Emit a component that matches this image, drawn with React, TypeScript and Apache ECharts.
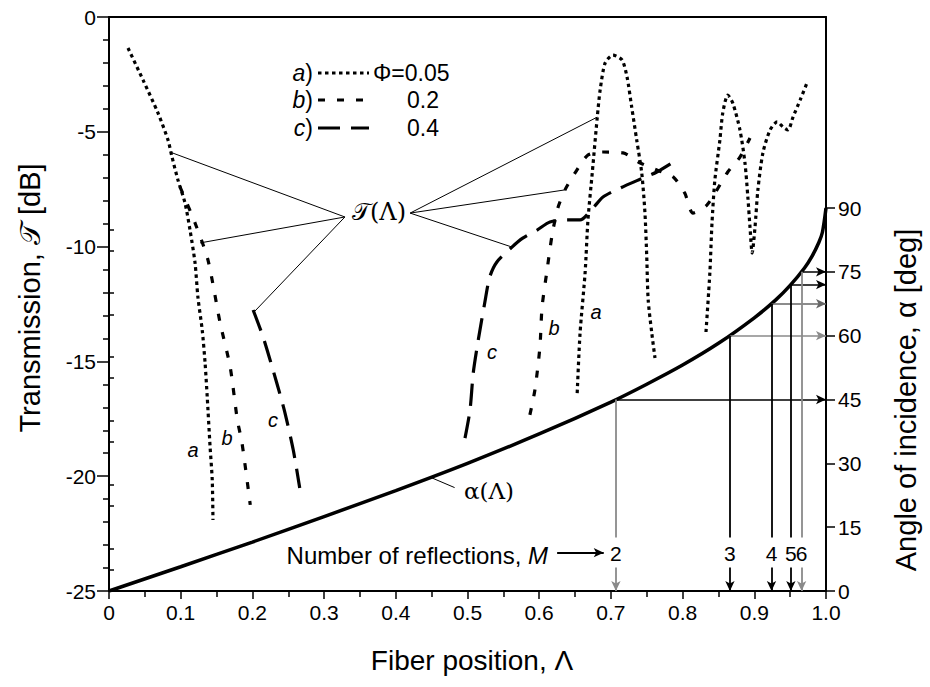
import React, { useEffect, useRef } from "react";
import * as echarts from "echarts";

// ---- Data ----
// Transmission curves [fiber position Λ, transmission dB]
const curveALeft: [number, number][] = [
  [0.0265, -1.35], [0.0474, -2.74], [0.0683, -4.18], [0.0823, -5.36], [0.0879, -6.1],
  [0.0962, -7.1], [0.106, -8.1], [0.113, -9.28], [0.12, -10.71], [0.124, -12.2],
  [0.13, -13.63], [0.134, -15.07], [0.137, -16.55], [0.141, -18.73], [0.144, -20.17], [0.145, -21.91],
];
const curveARight1: [number, number][] = [
  [0.653, -16.38], [0.657, -13.76], [0.664, -11.15], [0.668, -8.84], [0.674, -6.79],
  [0.681, -4.36], [0.685, -3.18], [0.692, -2.0], [0.703, -1.66], [0.7155, -1.87],
  [0.7225, -2.61], [0.729, -3.92], [0.736, -5.36], [0.743, -6.79], [0.7475, -8.54],
  [0.75, -10.45], [0.752, -12.33], [0.757, -13.76], [0.7615, -14.85],
];
const curveARight2: [number, number][] = [
  [0.8326, -13.72], [0.838, -11.15], [0.841, -8.97], [0.845, -7.1], [0.852, -5.36],
  [0.856, -4.18], [0.863, -3.4], [0.87, -3.75], [0.88, -4.92], [0.887, -6.36],
  [0.891, -7.84], [0.894, -9.15], [0.897, -10.28], [0.901, -9.15], [0.905, -7.53],
  [0.912, -5.92], [0.922, -4.92], [0.932, -4.57], [0.94, -4.79], [0.947, -4.92],
  [0.954, -4.36], [0.964, -3.61], [0.9735, -2.87],
];
const curveBLeft: [number, number][] = [
  [0.099, -7.4], [0.12, -8.97], [0.138, -10.58], [0.155, -13.33], [0.169, -15.24],
  [0.179, -17.55], [0.1855, -18.55], [0.197, -21.25],
];
const curveBRight: [number, number][] = [
  [0.587, -17.33], [0.594, -16.25], [0.601, -14.37], [0.604, -12.63], [0.611, -11.02],
  [0.618, -9.49], [0.626, -8.32], [0.636, -7.53], [0.65, -6.79], [0.668, -6.01],
  [0.689, -5.88], [0.717, -5.92], [0.741, -6.36], [0.764, -6.66], [0.787, -6.97],
  [0.803, -7.67], [0.8145, -8.54], [0.834, -8.19], [0.863, -6.75], [0.88, -6.1], [0.894, -5.27],
];
const curveCLeft: [number, number][] = [
  [0.201, -12.76], [0.215, -13.94], [0.234, -15.94], [0.2455, -17.25], [0.257, -18.86], [0.266, -20.51],
];
const curveCRight: [number, number][] = [
  [0.4965, -18.34], [0.5035, -17.12], [0.508, -15.51], [0.515, -14.07], [0.524, -12.46],
  [0.531, -11.32], [0.541, -10.67], [0.562, -10.02], [0.577, -9.63], [0.597, -9.28],
  [0.615, -8.93], [0.639, -8.84], [0.657, -8.84], [0.675, -8.32], [0.689, -7.84],
  [0.713, -7.45], [0.745, -7.01], [0.764, -6.75], [0.796, -6.14],
];

// Angle of incidence curve α(Λ) [Λ, deg]
const alphaLambda = [0, 0.1, 0.2, 0.3, 0.4, 0.5, 0.6, 0.7, 0.75, 0.8, 0.85, 0.9, 0.93, 0.95, 0.97, 0.98, 0.99, 0.995, 1.0];
const alphaDeg = [0, 5.7, 11.5, 17.5, 23.6, 30, 36.9, 44.4, 48.6, 53.1, 58.2, 64.2, 68.4, 71.8, 75.9, 78.5, 81.9, 84.3, 90];

// Number of reflections
const reflM = [2, 3, 4, 5, 6];
const reflLambda = [0.707, 0.866, 0.924, 0.951, 0.966];
const reflAlpha = [45, 60, 67.5, 72, 75];

// Annotation pointers for 𝒯(Λ)
const tAnchorLeft: [number, number] = [0.329, -8.71];
const tTargetsLeft: [number, number][] = [[0.085, -5.88], [0.127, -9.84], [0.201, -12.89]];
const tAnchorRight: [number, number] = [0.42, -8.54];
const tTargetsRight: [number, number][] = [[0.681, -4.36], [0.636, -7.53], [0.562, -10.02]];

// Axis ticks
const leftMin = -25, leftMax = 0, leftStep = 5;
const rightMajor = [0, 15, 30, 45, 60, 75, 90];
const rightMinor = [5, 10, 20, 25, 35, 40, 50, 55, 65, 70, 80, 85];

// ---- Layout ----
const W = 930, H = 687;
const G = { left: 109, right: 104, top: 17, bottom: 96 };
const plotH = H - G.top - G.bottom;
const angleTopPx = 208; // pixel y of 90 deg
const angleMax = 90 * plotH / (H - G.bottom - angleTopPx);

const FONT = "'Liberation Sans', Arial, sans-serif";
const BLK = "#000";
const TS = 21; // tick text size
const LS = 23; // legend / annotation text size

const DOT = [3.5, 3.5];
const SHORT = [7, 12];
const LONG = [22, 11];

function App() {
  const ref = useRef<HTMLDivElement>(null);
  useEffect(() => {
    if (!ref.current) return;
    const chart = echarts.init(ref.current, undefined, { renderer: "svg" });

    const curve = (data: [number, number][], dash: number[]) => ({
      type: "line",
      data,
      xAxisIndex: 0,
      yAxisIndex: 0,
      symbol: "none",
      smooth: 0.25,
      silent: true,
      lineStyle: { color: BLK, width: 3.2, type: dash, cap: "butt" },
      z: 3,
    });

    const vTop = 12.6;
    const vArrowStart = 5.5;
    const labelAlpha = 8.7;
    const vColors = ["#8a8a8a", BLK, BLK, BLK, "#8a8a8a"];
    const hColors = [BLK, "#8a8a8a", "#666", BLK, BLK];

    const reflLines: any[] = [];
    reflLambda.forEach((l, i) => {
      reflLines.push([
        { coord: [l, reflAlpha[i]], symbol: "none", lineStyle: { color: hColors[i], width: 1.5 } },
        { coord: [1, reflAlpha[i]], symbol: "arrow" },
      ]);
      reflLines.push([
        { coord: [l, reflAlpha[i]], symbol: "none", lineStyle: { color: vColors[i], width: 1.8 } },
        { coord: [l, vTop], symbol: "none" },
      ]);
      reflLines.push([
        { coord: [l, vArrowStart], symbol: "none", lineStyle: { color: vColors[i], width: 1.8 } },
        { coord: [l, 0], symbol: "arrow" },
      ]);
    });
    // arrow after "Number of reflections, M"
    reflLines.push([
      { coord: [0.625, 9.0], symbol: "none", lineStyle: { color: BLK, width: 2 } },
      { coord: [0.69, 9.0], symbol: "arrow" },
    ]);
    // α(Λ) pointer
    reflLines.push([
      { coord: [0.45, 26.6], symbol: "none", lineStyle: { color: BLK, width: 1 } },
      { coord: [0.482, 24.3], symbol: "none" },
    ]);

    const annotLines: any[] = [];
    tTargetsLeft.forEach((t) => annotLines.push([{ coord: tAnchorLeft }, { coord: t }]));
    tTargetsRight.forEach((t) => annotLines.push([{ coord: tAnchorRight }, { coord: t }]));

    const txt = (x: number, y: number, text: string, opts: any = {}) => ({
      type: "text",
      x,
      y,
      rotation: opts.rotation || 0,
      silent: true,
      z: 10,
      style: {
        text,
        font: opts.font || `${LS}px ${FONT}`,
        fill: BLK,
        opacity: 1,
        textAlign: opts.align || "left",
        textVerticalAlign: "middle",
        rich: opts.rich,
      },
    });
    const richFor = (size: number) => ({
      i: { fontStyle: "italic", fontSize: size, fontFamily: FONT, fill: BLK },
      n: { fontSize: size, fontFamily: FONT, fill: BLK },
    });

    const legendLine = (y: number, dash: number[]) => ({
      type: "line",
      silent: true,
      shape: { x1: 318, y1: y, x2: 369, y2: y },
      style: { stroke: BLK, lineWidth: 3.2, lineDash: dash },
    });

    const graphics: any[] = [
      // legend
      txt(313, 73, "{i|a})", { align: "right", rich: richFor(LS) }),
      legendLine(73, DOT),
      txt(373, 73, "Φ=0.05"),
      txt(313, 100, "{i|b})", { align: "right", rich: richFor(LS) }),
      legendLine(100, SHORT),
      txt(407, 100, "0.2"),
      txt(313, 128, "{i|c})", { align: "right", rich: richFor(LS) }),
      legendLine(128, LONG),
      txt(407, 128, "0.4"),
      // annotations
      txt(379, 212, "𝒯(Λ)", { align: "center", font: `24px 'DejaVu Serif', serif` }),
      txt(489, 491, "α(Λ)", { align: "center", font: `23px 'DejaVu Serif', serif` }),
      txt(548, 555, "{n|Number of reflections, }{i|M}", { align: "right", rich: richFor(24) }),
      // curve labels
      txt(193, 450, "a", { align: "center", font: `italic 20px ${FONT}` }),
      txt(227, 438, "b", { align: "center", font: `italic 20px ${FONT}` }),
      txt(273, 420, "c", { align: "center", font: `italic 20px ${FONT}` }),
      txt(596, 312, "a", { align: "center", font: `italic 20px ${FONT}` }),
      txt(554, 328, "b", { align: "center", font: `italic 20px ${FONT}` }),
      txt(492, 352, "c", { align: "center", font: `italic 20px ${FONT}` }),
      // axis names
      txt(30, 298, "Transmission, 𝒯 [dB]", { align: "center", rotation: Math.PI / 2, font: `29px ${FONT}` }),
      txt(472, 660, "Fiber position, Λ", { align: "center", font: `28px ${FONT}` }),
      txt(906, 400, "Angle of incidence, α [deg]", { align: "center", rotation: Math.PI / 2, font: `29px ${FONT}` }),
    ];

    const option: any = {
      animation: false,
      backgroundColor: "#fff",
      grid: { ...G, outerBoundsMode: "none", containLabel: false },
      xAxis: [
        {
          type: "value",
          min: 0,
          max: 1,
          interval: 0.1,
          position: "bottom",
          axisLine: { show: true, onZero: false, lineStyle: { color: BLK, width: 2 } },
          axisTick: { show: true, length: 8, lineStyle: { color: BLK, width: 1.5 } },
          minorTick: { show: true, splitNumber: 2, length: 6, lineStyle: { color: BLK, width: 1.5 } },
          axisLabel: {
            color: BLK,
            fontSize: TS,
            fontFamily: FONT,
            margin: 11,
            formatter: (v: number) => (v === 0 ? "0" : v.toFixed(1)),
          },
          splitLine: { show: false },
        },
        {
          type: "value",
          min: 0,
          max: 1,
          position: "top",
          axisLine: { show: true, onZero: false, lineStyle: { color: BLK, width: 2 } },
          axisTick: { show: false },
          axisLabel: { show: false },
          splitLine: { show: false },
        },
      ],
      yAxis: [
        {
          type: "value",
          min: leftMin,
          max: leftMax,
          interval: leftStep,
          position: "left",
          axisLine: { show: true, onZero: false, lineStyle: { color: BLK, width: 2 } },
          axisTick: { show: true, length: 12, lineStyle: { color: BLK, width: 1.5 } },
          minorTick: { show: true, splitNumber: 5, length: 6, lineStyle: { color: BLK, width: 1.5 } },
          axisLabel: { color: BLK, fontSize: TS, fontFamily: FONT, margin: 13 },
          splitLine: { show: false },
        },
        {
          type: "value",
          min: 0,
          max: angleMax,
          position: "right",
          axisLine: { show: true, onZero: false, lineStyle: { color: BLK, width: 2 } },
          axisTick: { show: true, length: 9, customValues: rightMajor, lineStyle: { color: BLK, width: 1.5 } },
          axisLabel: { color: BLK, fontSize: TS, fontFamily: FONT, margin: 12, customValues: rightMajor },
          splitLine: { show: false },
        },
        {
          type: "value",
          min: 0,
          max: angleMax,
          position: "right",
          axisLine: { show: false },
          axisTick: { show: true, length: 5, customValues: rightMinor, lineStyle: { color: BLK, width: 1.5 } },
          axisLabel: { show: false },
          splitLine: { show: false },
        },
      ],
      series: [
        {
          ...curve(curveALeft, DOT),
          markLine: {
            silent: true,
            symbol: "none",
            label: { show: false },
            emphasis: { disabled: true },
            lineStyle: { color: BLK, width: 1, type: "solid" },
            data: annotLines,
          },
        },
        curve(curveARight1, DOT),
        curve(curveARight2, DOT),
        curve(curveBLeft, SHORT),
        curve(curveBRight, SHORT),
        curve(curveCLeft, LONG),
        curve(curveCRight, LONG),
        {
          type: "line",
          data: alphaLambda.map((l, i) => [l, alphaDeg[i]]),
          xAxisIndex: 0,
          yAxisIndex: 1,
          symbol: "none",
          smooth: 0.3,
          silent: true,
          lineStyle: { color: BLK, width: 3.5 },
          z: 4,
          markLine: {
            silent: true,
            symbolSize: [7, 10],
            label: { show: false },
            emphasis: { disabled: true },
            lineStyle: { type: "solid" },
            data: reflLines,
          },
        },
      ],
      graphic: graphics,
    };

    chart.setOption(option);

    // reflection numbers, placed through the axes' scales
    const digits = reflLambda.map((l, i) => {
      const p = chart.convertToPixel({ xAxisIndex: 0, yAxisIndex: 1 }, [l, labelAlpha]) as number[];
      return txt(p[0], p[1], String(reflM[i]), { align: "center", font: `${TS}px ${FONT}` });
    });
    chart.setOption({ graphic: [...graphics, ...digits] });

    return () => chart.dispose();
  }, []);

  return (
    <div
      ref={ref}
      style={{ position: "fixed", left: 0, top: 0, width: W, height: H, background: "#fff" }}
    />
  );
}

export default App;
